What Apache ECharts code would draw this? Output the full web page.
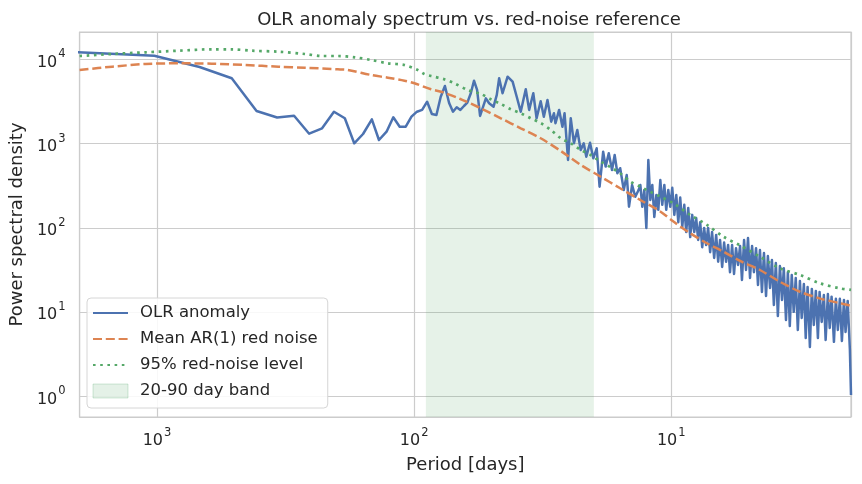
<!DOCTYPE html>
<html><head><meta charset="utf-8">
<script src="https://cdn.jsdelivr.net/npm/echarts@6/dist/echarts.min.js"></script>
<style>html,body{margin:0;padding:0;background:#fff}#c{width:862px;height:484px}</style>
</head><body><div id="c"></div>
<script>
// ---- data ----
const olrPeriod = [2048,1024,683,512,410,341,293,256,228,205,186,171,158,146,137,128,120.5,113.8,107.8,102.4,97.5,93.1,89.0,85.3,81.9,78.8,75.9,73.1,70.6,68.3,66.1,64.0,62.1,60.2,58.5,56.9,55.4,
  52.6,51.1,49.1,47.7,46.7,45.3,43.3,41.4,39.9,38.5,36.8,35.7,34.4,33.4,32.2,31.3,30.3,29.3,28.6,28.2,27.3,26.5,26.0,25.2,24.6,23.9,23.2,22.5,21.9,21.4,20.7,20.1,19.5,19.0,18.4,18.0,17.5,17.0,16.6,16.2,15.8,15.3,14.9,14.6,14.2,13.8,13.4,
  13.19,12.96,12.73,12.50,12.28,12.06,11.85,11.64,11.43,11.23,11.03,10.84,10.64,10.46,10.27,10.09,9.91,9.73,9.56,9.39,9.23,9.06,8.90,8.75,8.59,8.44,8.29,8.14,8.00,7.86,7.72,7.58,7.45,7.32,7.19,7.06,6.94,6.81,6.69,6.57,6.46,6.34,6.23,6.12,6.01,5.91,5.80,5.70,5.60,5.50,
  5.40,5.31,5.21,5.12,5.03,4.94,4.85,4.77,4.68,4.60,4.52,4.44,4.36,4.28,4.21,4.13,4.06,3.99,3.92,3.85,3.78,3.71,3.65,3.58,3.52,3.46,3.40,3.34,3.28,3.22,3.16,3.11,3.05,3.00,2.95,2.89,2.84,2.79,2.74,2.69,2.65,2.60,2.55,2.51,2.46,2.42,2.38,2.33,2.29,2.25,2.21,2.17,2.13,2.10,2.06,2.02,2.00];
const olrPsd = [12200,11100,8150,5980,2450,2050,2150,1315,1525,2400,2005,1012,1305,1950,1108,1390,2060,1593,1593,2094,2400,2520,3155,2255,2195,3615,4840,3045,2400,2710,2520,2805,3070,3975,5600,4350,2135,
  3460,3020,2755,3795,5980,3975,6250,5460,3615,2400,4430,2520,3975,2005,3200,2095,3305,1828,2297,1750,2520,1593,2297,641,2005,1012,1455,843,1012,702,1028,671,883,309,805,535,771,488,734,446,512,282,426,179,324,235,282,
  324,178,283,100,641,215,324,135,246,164,371,188,324,164,283,178,300,143,246,117,230,103,188,89.5,173,78,143,89.5,131,72,117,59,100,62.8,100,51.5,89.5,44,82.6,39.7,72,34.5,67,39.7,62.8,29.9,62.8,28.4,57.5,36.4,
  61,24.1,72,31.7,76,25.5,61,29.9,57.5,21.1,54.8,17.4,50.4,15.6,46.5,19.4,41.7,12.2,38.3,9.0,35.4,14.0,33.3,8.09,29.9,6.86,27.7,10.1,25.5,6.16,23.4,8.55,21.6,4.94,19.9,3.87,18.9,7.06,17.9,4.94,17.4,7.65,16.0,4.68,16.4,6.5,15.3,4.45,14.4,6.16,14.4,4.56,14.0,5.82,13.6,3.56,1.04];

const ar1Period = [2000,1494,1106,821,612,453,337,266,198,181,147,126.5,109,99.7,85.9,78.6,65.7,55.0,46.0,38.5,32.2,26.9,22.5,18.8,15.8,13.2,11.0,9.80,8.44,7.27,6.27,5.40,4.52,3.78,3.16,2.65,2.21,2.0];
const ar1Psd = [7500,8213,8844,9013,8917,8602,8213,7991,7650,7505,6546,6081,5604,5218,4429,4147,3370,2635,2005,1525,1161,820,560,406,296,215,156,119,86.5,65.8,52.3,40.6,31.7,23.0,17.5,14.6,12.8,11.9];

const sig95Period = [2000,1494,1106,821,612,512,428,337,266,229,198,170,147,126.5,109,96.8,91.2,85.9,76.3,69.8,61.9,55.0,50.3,46.0,42.1,38.5,35.2,32.2,29.4,26.9,24.6,22.5,20.6,18.8,17.2,15.8,14.4,13.2,12.1,11.0,9.80,8.44,7.27,6.27,5.40,4.52,3.78,3.16,2.65,2.21,2.0];
const sig95Psd = [11000,11620,12175,12720,13215,13215,12720,12377,11620,11000,11000,10620,9865,9013,8602,7505,6728,6370,5821,5218,4345,3895,3370,2964,2564,2298,2005,1763,1456,1161,1012,843,735,612,525,446,354,309,270,235,196,143,109,78.8,62.0,45.6,33.2,27.7,22.1,19.2,18.4];

const bandEdges = [90, 20];          // 20-90 day band (period, days)
const xLimits = [2, 2000];           // period axis limits
const yLimits = [0.57, 21200];       // PSD axis limits

// ---- build chart ----
const zip = (a, b) => a.map((v, i) => [v, b[i]]);
const font = 'DejaVu Sans';
const txt = '#262626';
function powLabel(v) {
  const e = Math.log10(v), r = Math.round(e);
  if (Math.abs(e - r) > 1e-6) return '';
  return '{b|10}{s|' + r + '}';
}
const rich = {
  b: {fontSize: 16, fontFamily: font, color: txt, verticalAlign: 'bottom', lineHeight: 22},
  s: {fontSize: 11.5, fontFamily: font, color: txt, verticalAlign: 'top', lineHeight: 22, padding: [0, 0, 0, 1]}
};
const hideSym = {opacity: 0};
const chart = echarts.init(document.getElementById('c'), null, {renderer: 'canvas'});
chart.setOption({
  animation: false,
  backgroundColor: '#ffffff',
  title: {
    text: 'OLR anomaly spectrum vs. red-noise reference',
    left: 464, top: 6, textAlign: 'center',
    textStyle: {fontFamily: font, fontSize: 18, fontWeight: 'normal', color: txt}
  },
  grid: {left: 77, right: 11, top: 32, bottom: 67, show: true, borderColor: '#cccccc', borderWidth: 1.25, backgroundColor: 'transparent'},
  legend: {
    orient: 'vertical', left: 87, top: 298,
    backgroundColor: 'rgba(255,255,255,0.85)', borderColor: '#d6d6d6', borderWidth: 1, borderRadius: 4,
    padding: [6, 10, 8, 5], itemWidth: 35, itemHeight: 14, itemGap: 8, selectedMode: false,
    textStyle: {fontFamily: font, fontSize: 16.5, color: txt, lineHeight: 18, padding: [0, 0, 0, 7]},
    data: [
      {name: 'OLR anomaly', itemStyle: hideSym},
      {name: 'Mean AR(1) red noise', itemStyle: hideSym},
      {name: '95% red-noise level', itemStyle: hideSym},
      {name: '20-90 day band', icon: 'rect', itemStyle: {color: 'rgba(85,168,104,0.16)', borderColor: 'rgba(85,168,104,0.25)', borderWidth: 1, opacity: 1}}
    ]
  },
  xAxis: {
    type: 'log', logBase: 10, min: xLimits[0], max: xLimits[1], inverse: true,
    name: 'Period [days]', nameLocation: 'middle', nameGap: 39,
    nameTextStyle: {fontFamily: font, fontSize: 18, color: txt},
    axisLine: {show: false}, axisTick: {show: false}, minorTick: {show: false},
    axisLabel: {formatter: powLabel, rich: rich, margin: 10, showMinLabel: false, showMaxLabel: false},
    splitLine: {show: true, lineStyle: {color: '#cccccc', width: 1.2}}
  },
  yAxis: {
    type: 'log', logBase: 10, min: yLimits[0], max: yLimits[1],
    name: 'Power spectral density', nameLocation: 'middle', nameGap: 48, nameRotate: 90,
    nameTextStyle: {fontFamily: font, fontSize: 18, color: txt},
    axisLine: {show: false}, axisTick: {show: false},
    axisLabel: {formatter: powLabel, rich: rich, margin: 14, showMinLabel: false, showMaxLabel: false},
    splitLine: {show: true, lineStyle: {color: '#cccccc', width: 1.2}}
  },
  series: [
    {
      name: '20-90 day band', type: 'line', data: [], symbol: 'none', z: 1,
      itemStyle: {color: 'rgba(85,168,104,0.16)'},
      markArea: {silent: true, itemStyle: {color: 'rgba(85,168,104,0.15)'},
        data: [[{xAxis: bandEdges[0]}, {xAxis: bandEdges[1]}]]}
    },
    {
      name: 'OLR anomaly', type: 'line', data: zip(olrPeriod, olrPsd), symbol: 'none', z: 2,
      itemStyle: {color: '#4c72b0'}, lineStyle: {color: '#4c72b0', width: 2.5, join: 'round'}
    },
    {
      name: 'Mean AR(1) red noise', type: 'line', data: zip(ar1Period, ar1Psd), symbol: 'none', z: 3, smooth: 0.3,
      itemStyle: {color: '#dd8452'}, lineStyle: {color: '#dd8452', width: 2.5, type: [9, 3.8]}
    },
    {
      name: '95% red-noise level', type: 'line', data: zip(sig95Period, sig95Psd), symbol: 'none', z: 4, smooth: 0.3,
      itemStyle: {color: '#55a868'}, lineStyle: {color: '#55a868', width: 2.7, type: [2.6, 4.6]}
    }
  ]
});
</script></body></html>
